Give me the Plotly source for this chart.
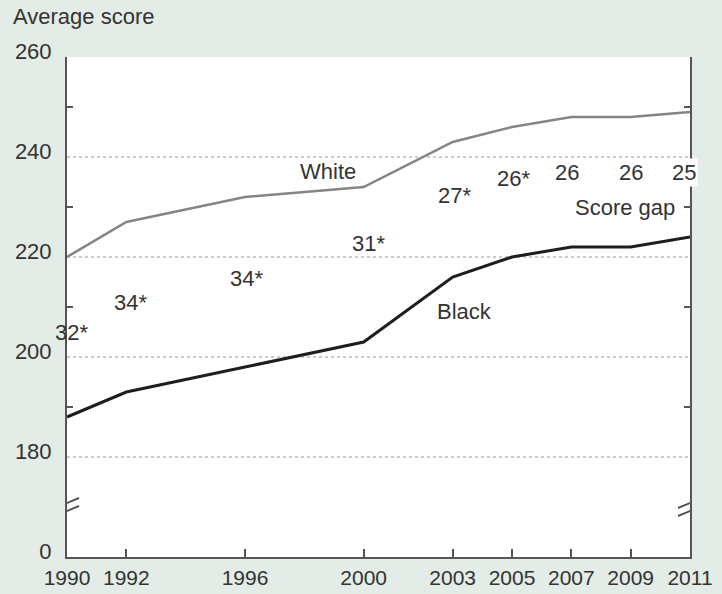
import plotly.graph_objects as go

years = [1990, 1992, 1996, 2000, 2003, 2005, 2007, 2009, 2011]
white = [220, 227, 232, 234, 243, 246, 248, 248, 249]
black = [188, 193, 198, 203, 216, 220, 222, 222, 224]
gap_labels = ["32*", "34*", "34*", "31*", "27*", "26*", "26", "26", "25"]
gap_x = [1990.15, 1992.15, 1996.05, 2000.15, 2003.05, 2005.05, 2006.85, 2009.0, 2010.8]
gap_y = [205, 211, 215.8, 222.8, 232.4, 235.8, 237, 237, 237]
y_tickvals = [160, 180, 200, 220, 240, 260]
y_ticktext = ["0", "180", "200", "220", "240", "260"]
x_ticktext = [str(y) for y in years]

BG = "#e3ece6"
AX = "#555555"
TXT = "#333333"
FONT = "Liberation Sans, Arial, sans-serif"
FS = 22

fig = go.Figure()
fig.add_trace(go.Scatter(x=years, y=white, mode="lines",
                         line=dict(color="#858585", width=2.5), showlegend=False))
fig.add_trace(go.Scatter(x=years, y=black, mode="lines", yaxis="y2",
                         line=dict(color="#1e1e1e", width=3), showlegend=False))

ann = []
for t, x, y in zip(gap_labels, gap_x, gap_y):
    a = dict(x=x, y=y, text=t, showarrow=False, font=dict(size=FS, color=TXT, family=FONT))
    if t == "25":
        a["bgcolor"] = "white"
    ann.append(a)
ann += [
    dict(x=1998.8, y=237.2, text="White", showarrow=False, font=dict(size=FS, color=TXT, family=FONT)),
    dict(x=2003.4, y=209.2, text="Black", showarrow=False, font=dict(size=FS, color=TXT, family=FONT)),
    dict(x=2008.8, y=230, text="Score gap", showarrow=False, font=dict(size=FS, color=TXT, family=FONT)),
    dict(xref="paper", yref="paper", x=-0.09, y=1.08, xanchor="left", yanchor="middle",
         text="Average score", showarrow=False, font=dict(size=FS, color=TXT, family=FONT)),
]

shapes = []
for xa in (1990, 2011):
    shapes.append(dict(type="rect", xref="x", yref="y", xsizemode="pixel", ysizemode="pixel",
                       xanchor=xa, yanchor=170, x0=-3, x1=3, y0=-3, y1=3,
                       fillcolor="#f2f6f3", line=dict(width=0), layer="above"))
    for off in (-4, 4):
        shapes.append(dict(type="line", xref="x", yref="y", xsizemode="pixel", ysizemode="pixel",
                           xanchor=xa, yanchor=170, x0=-12, x1=12, y0=off - 5, y1=off + 5,
                           line=dict(color=AX, width=2), layer="above"))

fig.update_layout(
    width=722, height=594,
    paper_bgcolor=BG, plot_bgcolor="white",
    margin=dict(l=67, r=32, t=57, b=37, autoexpand=False),
    font=dict(family=FONT, size=FS, color=TXT),
    xaxis=dict(range=[1990, 2011], tickvals=years, ticktext=x_ticktext, automargin=False,
               ticks="inside", ticklen=8, tickwidth=1.5, tickcolor=AX,
               showline=True, linecolor=AX, linewidth=2, showgrid=False, zeroline=False,
               ticklabelstandoff=1, tickfont=dict(size=21, color=TXT)),
    yaxis=dict(range=[160, 260], tickvals=y_tickvals, ticktext=y_ticktext, automargin=False,
               ticks="", showgrid=False, zeroline=False,
               showline=True, linecolor=AX, linewidth=2, mirror="ticks",
               ticklabelstandoff=9, ticklabelshift=-6, tickfont=dict(size=FS, color=TXT),
               minor=dict(tickvals=[190, 210, 230, 250], ticks="inside", ticklen=6,
                          tickwidth=1.5, tickcolor=AX, showgrid=False)),
    yaxis2=dict(range=[160, 260], matches="y", overlaying="y", side="left", automargin=False,
                tickvals=[180, 200, 220, 240], showticklabels=False, ticks="",
                showgrid=True, gridcolor="#cccccc", griddash="dot", gridwidth=1.5,
                zeroline=False, showline=False),
    annotations=ann,
    shapes=shapes,
)

fig.write_html("out.html", config={"displayModeBar": False},
               post_script="document.body.style.margin='0';document.body.style.padding='0';")
